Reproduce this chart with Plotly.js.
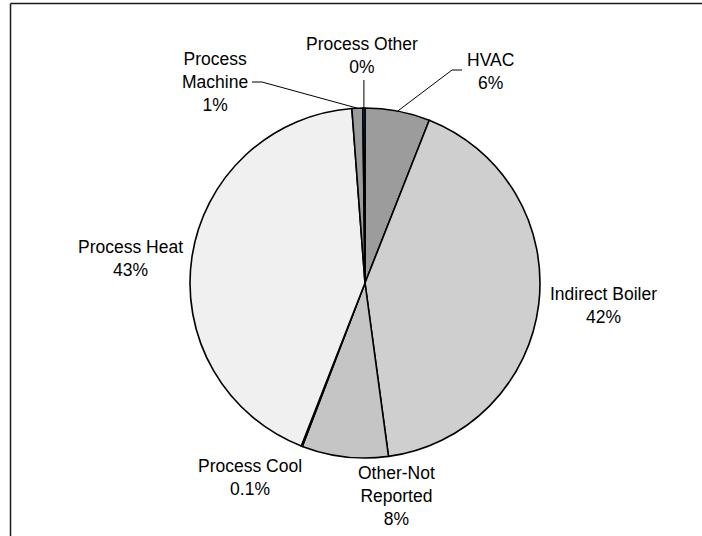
<!DOCTYPE html>
<html>
<head>
<meta charset="utf-8">
<script src="https://cdn.plot.ly/plotly-3.0.1.min.js"></script>
<style>
  html, body { margin: 0; padding: 0; background: #ffffff; }
  #chart { width: 702px; height: 536px; }
</style>
</head>
<body>
<div id="chart"></div>
<script>
// End-use shares, listed clockwise from 12 o'clock
const categories = ['HVAC', 'Indirect Boiler', 'Other-Not Reported', 'Process Cool', 'Process Heat', 'Process Machine', 'Process Other'];
const shares = [6, 42, 8, 0.1, 43, 1, 0.2];
const shareLabels = ['6%', '42%', '8%', '0.1%', '43%', '1%', '0%'];
// Text shown for each category (line breaks as in the labels)
const labelNames = ['HVAC', 'Indirect Boiler', 'Other-Not<br>Reported', 'Process Cool', 'Process Heat', 'Process<br>Machine', 'Process Other'];

// Fill styling per slice
const fillColors = ['#acacac', '#e8e8e8', '#d0d0d0', '#e0e0e0', '#fbfbfb', '#acacac', '#1c5cc8'];
const dotColors  = ['#888888', '#b0b0b0', '#b8b8b8', '#bcbcbc', '#e2e2e2', '#888888', '#1c5cc8'];

const W = 702, H = 536;
const CX = 365, CY = 283, R = 175;            // pie centre and radius in px
const px = x => x / W;
const py = y => 1 - y / H;

// Label block centres (px) and leader-line layout
const labelPos = {
  'HVAC':               [490, 71],
  'Indirect Boiler':    [603, 305],
  'Other-Not Reported': [396, 496],
  'Process Cool':       [250, 477],
  'Process Heat':       [130, 259],
  'Process Machine':    [215, 82],
  'Process Other':      [362, 55.5]
};
const leaders = {
  'HVAC':            {start: [462, 70], elbow: [452, 70]},
  'Process Machine': {start: [252, 82], elbow: [262, 82]},
  'Process Other':   {start: null, elbow: null, topY: 80}
};

const total = shares.reduce((a, b) => a + b, 0);
// Mid-angle point on the rim for slice i (clockwise from top)
function rimPoint(i) {
  const before = shares.slice(0, i).reduce((a, b) => a + b, 0);
  const ang = (before + shares[i] / 2) / total * 2 * Math.PI;
  return [CX + R * Math.sin(ang), CY - R * Math.cos(ang)];
}

const font = {family: 'Liberation Sans, Arial, sans-serif', size: 17.5, color: '#000000'};

const annotations = categories.map((c, i) => ({
  xref: 'paper', yref: 'paper',
  x: px(labelPos[c][0]), y: py(labelPos[c][1]),
  xanchor: 'center', yanchor: 'middle',
  text: labelNames[i] + '<br>' + shareLabels[i],
  showarrow: false, font: font, align: 'center'
}));

const shapes = [];
categories.forEach((c, i) => {
  const L = leaders[c];
  if (!L) return;
  const rim = rimPoint(i);
  let path;
  if (L.start) {
    path = `M ${px(L.start[0])} ${py(L.start[1])} L ${px(L.elbow[0])} ${py(L.elbow[1])} L ${px(rim[0])} ${py(rim[1])}`;
  } else {
    path = `M ${px(rim[0])} ${py(L.topY)} L ${px(rim[0])} ${py(rim[1])}`;
  }
  shapes.push({type: 'path', xref: 'paper', yref: 'paper', path: path,
               line: {color: '#000000', width: 1}});
});

// Chart-area frame (top and left edges)
shapes.push({type: 'line', xref: 'paper', yref: 'paper', x0: px(10.5), y0: py(3.5), x1: 1, y1: py(3.5),
             line: {color: '#1a1a1a', width: 1.5}});
shapes.push({type: 'line', xref: 'paper', yref: 'paper', x0: px(10.5), y0: py(3.5), x1: px(10.5), y1: 0,
             line: {color: '#1a1a1a', width: 1.5}});

const trace = {
  type: 'pie',
  labels: categories,
  values: shares,
  sort: false,
  direction: 'clockwise',
  rotation: 0,
  textinfo: 'none',
  hoverinfo: 'label+percent',
  showlegend: false,
  domain: {x: [px(CX - R), px(CX + R)], y: [py(CY + R), py(CY - R)]},
  marker: {
    colors: fillColors,
    line: {color: '#000000', width: 1.6},
    pattern: {shape: '.', fgcolor: dotColors, bgcolor: fillColors, size: 2, solidity: 0.5}
  }
};

const layout = {
  width: W, height: H,
  margin: {l: 0, r: 0, t: 0, b: 0},
  paper_bgcolor: '#ffffff',
  plot_bgcolor: '#ffffff',
  showlegend: false,
  annotations: annotations,
  shapes: shapes
};

Plotly.newPlot('chart', [trace], layout, {displayModeBar: false, staticPlot: true});
</script>
</body>
</html>
